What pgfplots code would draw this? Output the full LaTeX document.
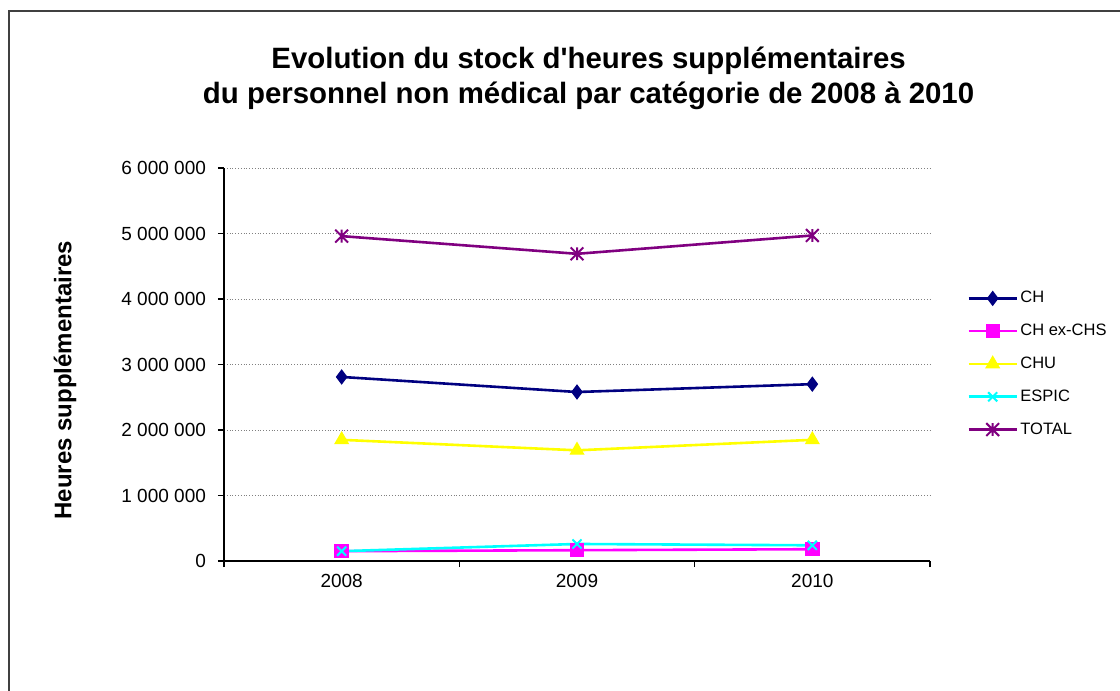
\documentclass[border=0pt]{standalone}
\usepackage{fontspec}
\setmainfont{Liberation Sans}
\usepackage{pgfplots}
\pgfplotsset{compat=1.18}

\definecolor{chnavy}{RGB}{0,0,128}
\definecolor{chmag}{RGB}{255,0,255}
\definecolor{chuyel}{RGB}{255,255,0}
\definecolor{espcyan}{RGB}{0,255,255}
\definecolor{totpurp}{RGB}{128,0,128}

% Excel style star: an x with a vertical bar
\pgfdeclareplotmark{xstar}{%
  \pgfpathmoveto{\pgfqpoint{-\pgfplotmarksize}{-\pgfplotmarksize}}%
  \pgfpathlineto{\pgfqpoint{\pgfplotmarksize}{\pgfplotmarksize}}%
  \pgfpathmoveto{\pgfqpoint{-\pgfplotmarksize}{\pgfplotmarksize}}%
  \pgfpathlineto{\pgfqpoint{\pgfplotmarksize}{-\pgfplotmarksize}}%
  \pgfpathmoveto{\pgfqpoint{0pt}{-\pgfplotmarksize}}%
  \pgfpathlineto{\pgfqpoint{0pt}{\pgfplotmarksize}}%
  \pgfusepathqstroke}

\begin{document}
\begin{tikzpicture}
% page = 1120 x 691 px at 0.5pt per px
\useasboundingbox (0,0) rectangle (560pt,-345.5pt);
\begin{scope}
\clip (0,0) rectangle (560pt,-345.5pt);
\draw[line width=1pt, black!75] (4.5pt,-600pt) -- (4.5pt,-5.25pt) -- (700pt,-5.25pt);
\end{scope}

\node[font=\bfseries\fontsize{14.7}{17.5}\selectfont, align=center] at (294.3pt,-39pt)
  {Evolution du stock d\textquotesingle heures supplémentaires\\du personnel non médical par catégorie de 2008 à 2010};
\node[rotate=90, font=\bfseries\fontsize{12}{14}\selectfont] at (32.5pt,-190pt) {Heures supplémentaires};

\begin{axis}[
    at={(112pt,-280.5pt)}, anchor=south west,
    scale only axis,
    width=353pt, height=196.5pt,
    xmin=-0.5, xmax=2.5,
    ymin=0, ymax=6000000,
    scaled y ticks=false,
    axis x line*=bottom, axis y line*=left,
    axis line style={-, line width=0.7pt},
    xtick={-0.5,0.5,1.5,2.5},
    xticklabels={},
    extra x ticks={0,1,2},
    extra x tick labels={2008,2009,2010},
    extra x tick style={major tick length=0pt, grid=none,
        tick label style={yshift=-3pt}},
    ytick={0,1000000,2000000,3000000,4000000,5000000,6000000},
    yticklabels={0,1 000 000,2 000 000,3 000 000,4 000 000,5 000 000,6 000 000},
    yticklabel style={xshift=-2.5pt},
    tick align=outside,
    major tick length=3pt,
    tick style={line width=0.6pt, black},
    ymajorgrids,
    grid style={densely dotted, gray, line width=0.5pt},
    tick label style={font=\fontsize{9.5}{11}\selectfont},
    /pgf/number format/assume math mode=true,
    legend style={at={(1.0524,0.5013)}, anchor=west, draw=none, fill=none,
        inner sep=0pt, row sep=6.5pt,
        font=\fontsize{8.25}{10}\selectfont,
        nodes={inner sep=1.2pt, text height=6pt, text depth=1.5pt}},
    legend cell align=left,
    legend image code/.code={
        \draw[#1, mark repeat=2, mark phase=2] plot coordinates {(0pt,0pt) (12pt,0pt) (24pt,0pt)};
    },
    every axis plot/.append style={line width=1.3pt},
]
\addplot[color=chnavy, mark=diamond*, mark size=3.4pt, mark options={line width=0.6pt}] coordinates {
    (0,2810000) (1,2580000) (2,2700000)
};
\addlegendentry{CH}
\addplot[color=chmag, mark=square*, mark size=3.3pt, mark options={line width=0.6pt}] coordinates {
    (0,150000) (1,165000) (2,180000)
};
\addlegendentry{CH ex-CHS}
\addplot[color=chuyel, mark=triangle*, mark size=3.8pt, mark options={line width=0.6pt}] coordinates {
    (0,1850000) (1,1690000) (2,1850000)
};
\addlegendentry{CHU}
\addplot[color=espcyan, mark=x, mark size=3.2pt, mark options={line width=1pt}] coordinates {
    (0,150000) (1,260000) (2,240000)
};
\addlegendentry{ESPIC}
\addplot[color=totpurp, mark=xstar, mark size=3.2pt, mark options={line width=1pt}] coordinates {
    (0,4960000) (1,4690000) (2,4970000)
};
\addlegendentry{TOTAL}
\end{axis}
\end{tikzpicture}
\end{document}
